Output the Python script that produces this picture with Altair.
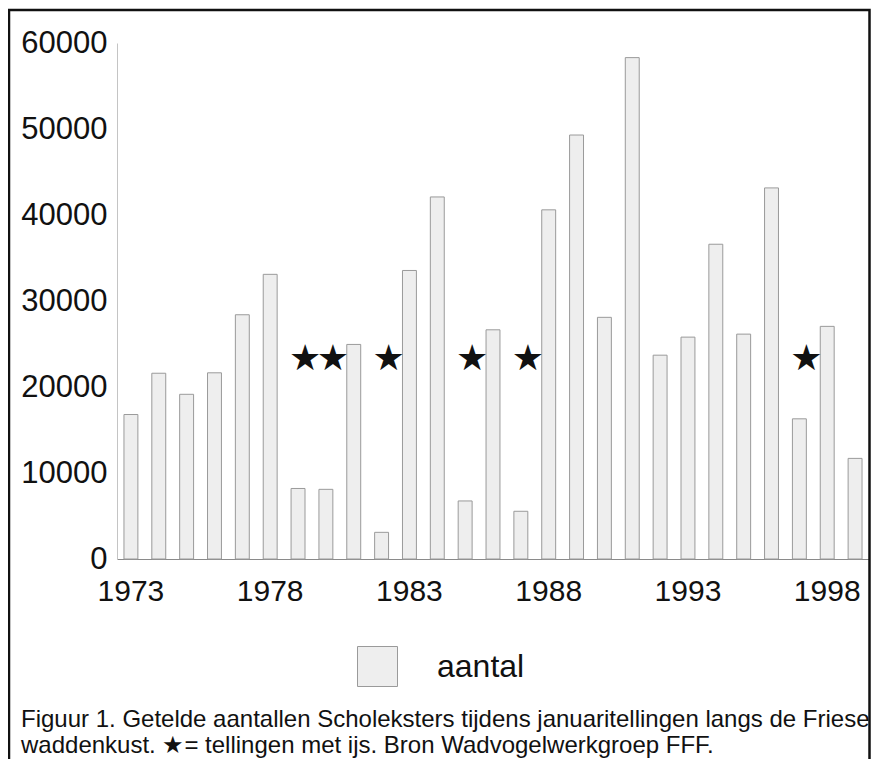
import altair as alt
import pandas as pd

years = list(range(1973, 2000))
counts = [16800, 21600, 19150, 21650, 28400, 33100, 8200, 8100, 24950, 3100,
          33550, 42100, 6750, 26650, 5550, 40600, 49300, 28100, 58300, 23700,
          25800, 36600, 26150, 43150, 16300, 27050, 11700]
series_name = "aantal"
ice_years = [1979, 1980, 1982, 1985, 1987, 1997]
star_level = [23500] * len(ice_years)
y_ticks = [0, 10000, 20000, 30000, 40000, 50000, 60000]
x_ticks = [1973, 1978, 1983, 1988, 1993, 1998]
caption_lines = [
    "Figuur 1. Getelde aantallen Scholeksters tijdens januaritellingen langs de Friese",
    "waddenkust. \u2605= tellingen met ijs. Bron Wadvogelwerkgroep FFF.",
]

bars_df = pd.DataFrame({"year": years, "value": counts, "serie": [series_name] * len(years)})
stars_df = pd.DataFrame({"year": ice_years, "value": star_level, "s": ["\u2605"] * len(ice_years)})
frame_df = pd.DataFrame({"k": [0]})
caption_df = pd.DataFrame({"t": ["\n".join(caption_lines)]})

FONT = "Liberation Sans"
W, H = 752, 516

x_enc = alt.X("year:O", title=None,
              scale=alt.Scale(paddingInner=0.5, paddingOuter=0.25),
              axis=alt.Axis(values=x_ticks, labelAngle=0, labelFontSize=30, labelFont=FONT,
                            labelColor="#111", ticks=False, labelPadding=17,
                            domainColor="#8a8a8a", domainWidth=1.2, grid=False))
y_enc = alt.Y("value:Q", title=None,
              scale=alt.Scale(domain=[0, 60000], nice=False),
              axis=alt.Axis(values=y_ticks, format="d", labelFontSize=31, labelFont=FONT,
                            labelColor="#111", ticks=False, labelPadding=10,
                            domainColor="#c4c4c4", domainWidth=1, grid=False))

bars = alt.Chart(bars_df).mark_bar(stroke="#9a9a9a", strokeWidth=1).encode(
    x=x_enc,
    y=y_enc,
    color=alt.Color("serie:N", scale=alt.Scale(range=["#eeeeee"]),
                    legend=alt.Legend(title=None, orient="none", legendX=240, legendY=603,
                                      symbolType="square", symbolSize=1600,
                                      symbolStrokeColor="#9a9a9a", symbolStrokeWidth=1,
                                      labelFontSize=32, labelFont=FONT,
                                      labelColor="#111", labelOffset=39)),
)

stars = alt.Chart(stars_df).mark_text(fontSize=36, font="DejaVu Sans", color="#111",
                                      dx=7, dy=2, baseline="middle", align="center").encode(
    x=alt.X("year:O", title=None),
    y=alt.Y("value:Q", title=None),
    text="s:N",
)

frame = alt.Chart(frame_df).mark_rect(fill="transparent", stroke="#111", strokeWidth=2.5).encode(
    x=alt.value(-108), x2=alt.value(W + 0.5), y=alt.value(-33), y2=alt.value(800)
)

caption = alt.Chart(caption_df).mark_text(align="left", baseline="alphabetic", fontSize=24,
                                          font=FONT, color="#111", lineBreak="\n",
                                          lineHeight=26).encode(
    x=alt.value(-96), y=alt.value(684), text="t:N"
)

chart = alt.layer(bars, stars, frame, caption).properties(
    width=W, height=H,
    autosize=alt.AutoSizeParams(type="none"),
    padding={"left": 109, "top": 35, "right": 2, "bottom": 200},
    background="white",
).configure_view(strokeWidth=0)

chart.save("out.html", embed_options={"renderer": "svg", "actions": False})
